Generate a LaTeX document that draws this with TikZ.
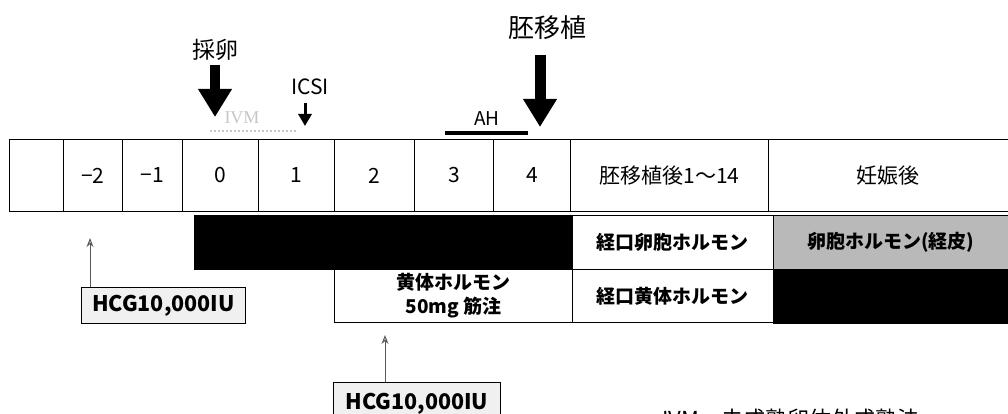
\documentclass[tikz,border=0pt]{standalone}
\usepackage{fontspec}
\setmainfont{Noto Sans CJK JP}
\newfontfamily\serifF{Liberation Serif}
\usetikzlibrary{arrows.meta}
\begin{document}
\begin{tikzpicture}[x=1pt,y=-1pt,
  cell/.style={draw=black, line width=0.8pt, inner sep=0pt, anchor=north west, font=\fontsize{21}{24}\selectfont},
  rowbox/.style={draw=black, line width=0.8pt, inner sep=0pt, anchor=north west, font=\bfseries\fontsize{19}{23}\selectfont, align=center},
  blackbox/.style={rowbox, fill=black},
  hcgbox/.style={draw=black, line width=0.8pt, fill=gray!12, inner sep=0pt, anchor=north west, font=\bfseries\fontsize{21.5}{24}\selectfont},
  toplabel/.style={inner sep=0pt},
  bigarrow/.style={line width=10pt, -{Triangle[width=32pt,length=28pt]}},
  smallarrow/.style={line width=3pt, -{Triangle[width=13pt,length=12pt]}},
  thinarrow/.style={gray!70!black, line width=1pt, -{Stealth[open,length=9pt,width=7pt]}}
]
\useasboundingbox (0,0) rectangle (1008,414);

% timeline table
\node[cell, minimum width=54pt, minimum height=72pt] (h0) at (9,139) {};
\node[cell, minimum width=59pt, minimum height=72pt] (h1) at (63,139) {−2};
\node[cell, minimum width=60pt, minimum height=72pt] (h2) at (122,139) {−1};
\node[cell, minimum width=76pt, minimum height=72pt] (h3) at (182,139) {0};
\node[cell, minimum width=76pt, minimum height=72pt] (h4) at (258,139) {1};
\node[cell, minimum width=80pt, minimum height=72pt] (h5) at (334,139) {2};
\node[cell, minimum width=79pt, minimum height=72pt] (h6) at (414,139) {3};
\node[cell, minimum width=77pt, minimum height=72pt] (h7) at (493,139) {4};
\node[cell, minimum width=198pt, minimum height=72pt] (h8) at (570,139) {胚移植後1〜14};
\node[cell, minimum width=240pt, minimum height=72pt] (h9) at (768,139) {妊娠後};

% hormone rows
\node[blackbox, minimum width=378pt, minimum height=54pt] (bk1) at (194,215) {};
\node[rowbox, minimum width=201pt, minimum height=54pt] (oe) at (572,215) {経口卵胞ホルモン};
\node[rowbox, fill=gray!55, minimum width=235pt, minimum height=54pt] (te) at (773,215) {卵胞ホルモン(経皮)};
\node[rowbox, minimum width=238pt, minimum height=53pt, font=\bfseries\fontsize{19}{24}\selectfont] (lu) at (334,269) {黄体ホルモン\\50mg 筋注};
\node[rowbox, minimum width=201pt, minimum height=53pt] (ol) at (572,269) {経口黄体ホルモン};
\node[blackbox, minimum width=235pt, minimum height=54pt] (bk2) at (773,269) {};

% HCG boxes
\node[hcgbox, minimum width=164pt, minimum height=36pt] (hcg1) at (81,287) {HCG10,000IU};
\node[hcgbox, minimum width=167pt, minimum height=40pt, text height=17pt] (hcg2) at (333,382) {\raisebox{-2pt}{HCG10,000IU}};
\coordinate (a1) at (90,238);
\coordinate (a2) at (385,335);
\draw[thinarrow] (hcg1.north -| a1) -- (a1);
\draw[thinarrow] (hcg2.north -| a2) -- (a2);

% top labels and arrows
\node[toplabel, font=\fontsize{23}{25}\selectfont] (egg) at (215,50) {採卵};
\coordinate (eggtip) at (215,117);
\draw[bigarrow] ([yshift=-4pt]egg.south) -- (eggtip);

\node[toplabel, font=\fontsize{26}{28}\selectfont] (et) at (547,28) {胚移植};
\coordinate (ettip) at (540,127);
\draw[bigarrow, line width=11pt] (ettip |- 0,55) -- (ettip);

\node[toplabel, font=\fontsize{21}{23}\selectfont] (icsi) at (310,87) {ICSI};
\coordinate (icsitip) at (305,126);
\draw[smallarrow] (icsitip |- 0,103) -- (icsitip);

\node[toplabel, text=gray!45, font=\serifF\fontsize{18}{20}\selectfont] (ivm) at (242,118) {IVM};
\draw[gray!45, line width=2pt, dotted] (210,131) -- (297,131);

\node[toplabel, font=\fontsize{19}{21}\selectfont] (ah) at (487,119) {AH};
\draw[line width=4pt] (445,133) -- (528,133);

% bottom legend (cut off by the picture's lower edge, as in the reference)
\node[inner sep=0pt, anchor=base west, font=\fontsize{22}{24}\selectfont] (legend) at (662,427) {IVM\quad 未成熟卵体外成熟法};
\end{tikzpicture}
\end{document}
